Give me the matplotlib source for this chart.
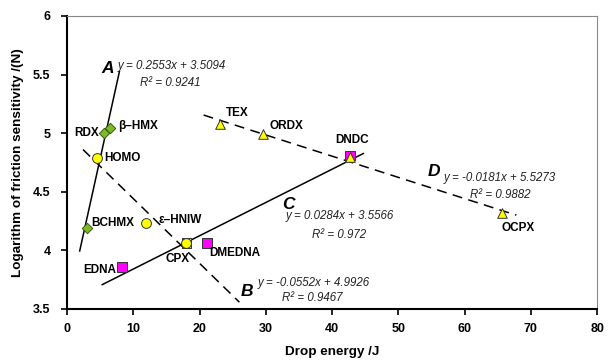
import matplotlib
matplotlib.use("Agg")
import matplotlib.pyplot as plt
import numpy as np

plt.rcParams['font.family'] = ['Liberation Sans', 'DejaVu Sans']

# Data
diamond_names = ["BCHMX", "RDX", "β–HMX"]
diamond_x = [3.0, 5.5, 6.4]
diamond_y = [4.19, 5.00, 5.04]

circle_names = ["HOMO", "ε–HNIW", "CPX"]
circle_x = [4.5, 11.9, 18.0]
circle_y = [4.79, 4.23, 4.06]

square_names = ["EDNA", "DMEDNA", "DNDC", "CPX"]
square_x = [8.3, 21.1, 42.7, 18.0]
square_y = [3.86, 4.06, 4.81, 4.06]
square_colors = ["#ff00ff", "#ff00ff", "#ff00ff", "#ffff00"]

tri_names = ["TEX", "ORDX", "DNDC", "OCPX"]
tri_x = [23.0, 29.6, 42.7, 65.6]
tri_y = [5.08, 4.99, 4.80, 4.32]

# Trend lines: slope, intercept, x range
fitA = (0.2553, 3.5094, 1.9, 7.9)
fitB = (-0.0552, 4.9926, 2.4, 26.0)
fitC = (0.0284, 3.5566, 5.3, 44.7)
fitD = (-0.0181, 5.5273, 20.6, 67.8)

fig = plt.figure(figsize=(6.10, 3.63), dpi=100)
ax = fig.add_axes([0.110, 0.149, 0.869, 0.807])

def line(fit, ls):
    m, b, x0, x1 = fit
    xs = np.array([x0, x1])
    if ls == "--":
        ax.plot(xs, m * xs + b, color="black", lw=1.1, linestyle="--",
                dashes=(6.5, 4.2), zorder=2)
    else:
        ax.plot(xs, m * xs + b, color="black", lw=1.1, linestyle="-", zorder=2)

line(fitA, "-")
line(fitB, "--")
line(fitC, "-")
line(fitD, "--")

ax.scatter(square_x, square_y, marker="s", s=48, c=square_colors, edgecolors="#333333", linewidths=0.7, zorder=3)
ax.scatter(diamond_x, diamond_y, marker="D", s=28, c="#7cba2a", edgecolors="#3b5e10", linewidths=0.7, zorder=4)
ax.scatter(circle_x, circle_y, marker="o", s=50, c="#ffff00", edgecolors="#333333", linewidths=0.7, zorder=4)
ax.scatter(tri_x, tri_y, marker="^", s=48, c="#ffff00", edgecolors="#333333", linewidths=0.7, zorder=4)

lab = dict(fontsize=8.5, fontweight="bold", va="center")
ax.text(4.8, 5.00, "RDX", ha="right", **lab)
ax.text(7.7, 5.06, "β–HMX", ha="left", **lab)
ax.text(5.6, 4.79, "HOMO", ha="left", **lab)
ax.text(3.7, 4.23, "BCHMX", ha="left", **lab)
ax.text(13.8, 4.26, "ε–HNIW", ha="left", **lab)
ax.text(14.8, 3.93, "CPX", ha="left", **lab)
ax.text(21.4, 3.98, "DMEDNA", ha="left", **lab)
ax.text(2.4, 3.83, "EDNA", ha="left", **lab)
ax.text(40.4, 4.94, "DNDC", ha="left", **lab)
ax.text(23.9, 5.17, "TEX", ha="left", **lab)
ax.text(30.6, 5.06, "ORDX", ha="left", **lab)
ax.text(65.5, 4.19, "OCPX", ha="left", **lab)

big = dict(fontsize=12.5, fontweight="bold", style="italic", ha="center", va="center")
ax.text(6.1, 5.55, "A", **big)
ax.text(27.2, 3.65, "B", **big)
ax.text(33.4, 4.39, "C", **big)
ax.text(55.3, 4.67, "D", **big)

eq = dict(fontsize=8.3, style="italic", ha="left", va="center", color="#222222")
ax.text(7.7, 5.57, "y = 0.2553x + 3.5094", **eq)
ax.text(11.0, 5.43, "R² = 0.9241", **eq)
ax.text(28.7, 3.72, "y = -0.0552x + 4.9926", **eq)
ax.text(32.5, 3.59, "R² = 0.9467", **eq)
ax.text(33.0, 4.29, "y = 0.0284x + 3.5566", **eq)
ax.text(37.0, 4.13, "R² = 0.972", **eq)
ax.text(56.8, 4.62, "y = -0.0181x + 5.5273", **eq)
ax.text(60.8, 4.47, "R² = 0.9882", **eq)

ax.set_xlim(0, 80)
ax.set_ylim(3.5, 6)
ax.set_xticks(np.arange(0, 81, 10))
ax.set_yticks([3.5, 4, 4.5, 5, 5.5, 6])
ax.set_yticklabels(["3.5", "4", "4.5", "5", "5.5", "6"])
for t in ax.get_xticklabels() + ax.get_yticklabels():
    t.set_fontweight("bold")
    t.set_fontsize(9)
ax.tick_params(direction="out", length=4, width=1.2)
ax.tick_params(axis="x", pad=6)
ax.tick_params(axis="y", pad=8)

ax.spines["left"].set_linewidth(1.5)
ax.spines["bottom"].set_linewidth(1.5)
ax.spines["top"].set_color("#888888")
ax.spines["right"].set_color("#888888")
ax.spines["top"].set_linewidth(0.8)
ax.spines["right"].set_linewidth(0.8)

ax.set_xlabel("Drop energy /J", fontsize=9.7, fontweight="bold", labelpad=8)
ax.set_ylabel("Logarithm of friction sensitivity /(N)", fontsize=9.7, fontweight="bold", labelpad=6)

fig.savefig("out.png", dpi=100)
